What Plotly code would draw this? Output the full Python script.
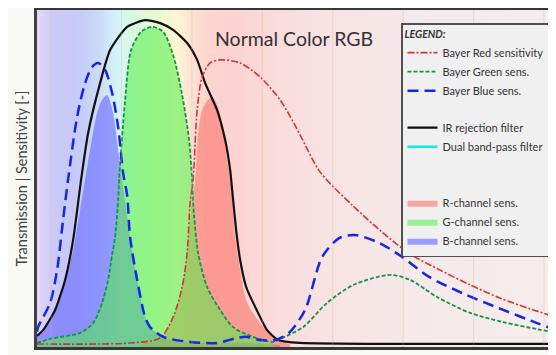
import plotly.graph_objects as go

# ---------------- data (wavelength nm, value %) ----------------
X_RANGE = [380, 1117]
Y_RANGE = [0, 100]

ir_nm = [380, 388.6, 405.7, 419.9, 431.3, 442.6, 452.6, 469.6, 483.8, 508.0, 533.5, 554.8,
         573.3, 593.2, 607.4, 618.8, 635.8, 647.2, 654.3, 658.5, 662.8, 668.5, 677.0, 694.0,
         706.8, 722.4, 753.7, 895.7, 1117]
ir_val = [3.3, 5.0, 11.0, 19.9, 31.8, 49.6, 63.5, 78.3, 88.1, 95.0, 97.0, 96.1,
          94.1, 90.2, 85.2, 78.3, 70.3, 61.4, 52.5, 43.6, 34.7, 25.8, 17.8, 10.1,
          5.0, 2.1, 1.2, 0.9, 0.9]

green_nm = [380, 398.6, 441.2, 459.7, 472.4, 481.0, 486.6, 490.9, 495.2, 496.6, 505.1, 513.6,
            527.8, 543.5, 559.1, 573.3, 586.1, 596.0, 600.3, 601.7, 608.8, 621.6, 640.1, 658.5,
            686.9, 715.3, 725.3, 758.0, 792.0, 829.0, 881.5, 909.9, 948.3, 995.2, 1042.0, 1090.3, 1117]
green_val = [1.2, 2.4, 4.2, 7.1, 13.1, 19.9, 27.3, 32.6, 43.6, 49.6, 73.3, 88.1,
             93.5, 95.0, 93.5, 86.6, 74.8, 61.4, 49.6, 42.7, 27.9, 17.8, 11.0, 5.9,
             3.0, 1.5, 2.4, 5.9, 13.1, 18.4, 21.4, 19.9, 14.8, 10.1, 7.4, 5.3, 4.2]

blue_nm = [380, 381.5, 398.6, 408.5, 417.0, 424.1, 436.9, 448.3, 458.2, 466.8, 476.7, 486.6,
           495.2, 502.3, 508.0, 512.2, 522.2, 533.5, 540.6, 559.1, 597.4, 635.8, 664.2, 678.4,
           695.5, 718.2, 737.8, 760.7, 784.9, 809.1, 831.8, 865.9, 898.6, 936.9, 983.8, 1042.0,
           1090.3, 1117]
blue_val = [4.5, 5.9, 13.1, 22.8, 37.7, 49.6, 68.2, 78.3, 83.1, 84.3, 82.2, 75.4,
            65.3, 51.6, 45.0, 32.6, 19.9, 8.9, 5.9, 3.0, 1.5, 1.2, 2.7, 3.0,
            2.1, 2.1, 4.2, 11.0, 26.7, 32.3, 33.2, 30.9, 26.7, 20.8, 16.0, 11.0,
            7.1, 5.0]

red_nm = [380, 512.2, 554.8, 573.3, 586.1, 593.2, 597.4, 601.7, 607.4, 614.5, 625.9, 640.1,
          668.5, 696.9, 725.3, 743.8, 753.7, 782.1, 827.5, 870.0, 909.9, 952.6, 995.2, 1037.8,
          1080.4, 1117]
red_val = [0.9, 1.2, 2.7, 8.9, 17.8, 27.9, 42.7, 49.6, 70.3, 80.1, 84.3, 85.2,
           84.3, 80.1, 73.3, 66.8, 62.9, 51.9, 42.1, 34.1, 27.6, 22.8, 18.4, 14.5,
           11.3, 8.9]

rch_nm = [526.4, 554.8, 573.3, 586.1, 593.2, 598.9, 604.5, 608.8, 615.9, 628.7, 637.2, 644.3,
          650.0, 654.3, 661.4, 668.5, 678.4, 696.9, 721.0, 739.5]
rch_val = [0.9, 2.7, 8.9, 17.8, 27.9, 40.7, 49.6, 63.5, 71.2, 74.2, 71.2, 63.5,
           55.5, 49.6, 32.6, 22.8, 13.1, 7.1, 2.1, 0.9]

bch_nm = [380, 388.6, 405.7, 419.9, 431.3, 441.2, 448.3, 455.4, 465.3, 472.4, 479.5, 488.1,
          495.2, 500.9, 512.2, 522.2, 533.5, 540.6, 559.1, 597.4, 635.8, 682.7, 725.3]
bch_val = [3.0, 5.0, 11.0, 19.3, 28.8, 40.7, 49.6, 58.5, 69.4, 73.3, 74.8, 69.4,
           58.5, 49.6, 32.6, 19.9, 8.9, 5.9, 3.0, 1.5, 1.2, 1.2, 0.6]

gch_cut = 716  # G-channel = green response below IR cut-off
gch_nm = [n for n in green_nm if n <= gch_cut]
gch_val = [v for n, v in zip(green_nm, green_val) if n <= gch_cut]

grid_nm = [400, 500, 600, 700, 800, 900, 1000, 1100]

bg_nm = [380, 392, 410, 440, 470, 488, 500, 515, 550, 580, 600, 620, 660, 720, 800, 900, 1117]
bg_col = ['#e4d6f8', '#d8d0fa', '#cac8f8', '#c6cbf8', '#cbdcfa', '#d4eefa', '#d6f6f4', '#d8f8e2', '#e8f8d2',
          '#fff6d2', '#ffe2d4', '#ffd5d0', '#fcd3d1', '#fadcdc', '#f8e3e3', '#f6e9e9', '#f5edec']

# ---------------- figure ----------------
fig = go.Figure()

span = X_RANGE[1] - X_RANGE[0]
fig.add_trace(go.Scatter(
    x=[X_RANGE[0], X_RANGE[1], X_RANGE[1], X_RANGE[0], X_RANGE[0]],
    y=[Y_RANGE[0], Y_RANGE[0], Y_RANGE[1], Y_RANGE[1], Y_RANGE[0]],
    mode='lines', line=dict(width=0, color='rgba(0,0,0,0)'), fill='toself',
    fillgradient=dict(type='horizontal', start=X_RANGE[0], stop=X_RANGE[1],
                      colorscale=[[(n - X_RANGE[0]) / span, c] for n, c in zip(bg_nm, bg_col)]),
    showlegend=False, hoverinfo='skip'))

common_fill = dict(mode='lines', line=dict(width=0, color='rgba(0,0,0,0)', shape='spline', smoothing=0.8),
                   fill='tozeroy', hoverinfo='skip')
fig.add_trace(go.Scatter(x=bch_nm, y=bch_val, name='B-channel sens.', fillcolor='rgba(100,100,255,0.6)',
                         legendgroup='c', legendrank=9, **common_fill))
fig.add_trace(go.Scatter(x=rch_nm, y=rch_val, name='R-channel sens.', fillcolor='rgba(250,115,105,0.6)',
                         legendgroup='c', legendrank=7, **common_fill))
fig.add_trace(go.Scatter(x=gch_nm, y=gch_val, name='G-channel sens.', fillcolor='rgba(80,240,70,0.55)',
                         legendgroup='c', legendrank=8, **common_fill))

fig.add_trace(go.Scatter(x=ir_nm, y=ir_val, name='IR rejection filter', mode='lines',
                         line=dict(color='#111111', width=2.2, shape='spline', smoothing=0.6),
                         legendgroup='b', legendrank=4))
fig.add_trace(go.Scatter(x=[None], y=[None], name='Dual band-pass filter', mode='lines',
                         line=dict(color='#10e8f0', width=2.5), legendgroup='b', legendrank=5))
fig.add_trace(go.Scatter(x=[None], y=[None], name=' ', mode='lines',
                         line=dict(color='rgba(0,0,0,0)', width=1), legendgroup='c', legendrank=6))

fig.add_trace(go.Scatter(x=red_nm, y=red_val, name='Bayer Red sensitivity', mode='lines',
                         line=dict(color='#d03434', width=1.6, dash='7px,2px,2px,2px', shape='spline', smoothing=0.8),
                         legendgroup='a', legendrank=1))
fig.add_trace(go.Scatter(x=green_nm, y=green_val, name='Bayer Green sens.', mode='lines',
                         line=dict(color='#15924a', width=1.8, dash='4px,2px', shape='spline', smoothing=0.8),
                         legendgroup='a', legendrank=2))
fig.add_trace(go.Scatter(x=blue_nm, y=blue_val, name='Bayer Blue sens.', mode='lines',
                         line=dict(color='#1426e8', width=2.5, dash='11px,6px', shape='spline', smoothing=0.8),
                         legendgroup='a', legendrank=3))

for g in grid_nm:
    fig.add_shape(type='line', x0=g, x1=g, xref='x', y0=0, y1=1, yref='paper', layer='above',
                  line=dict(color='rgba(215,175,130,0.3)', width=1))

# page is rendered with the browser's default 8px body margin
OFF = 8
W, H = 556 - OFF, 355 - OFF
L, R, T, B = 37 - OFF, 0, 10 - OFF, 8
pw, ph = W - L - R, H - T - B


def xp(px):  # page pixel -> paper fraction
    return (px - OFF - L) / pw


def yp(py):
    return (H - B - (py - OFF)) / ph


fig.add_annotation(text='Normal Color RGB', xref='paper', yref='paper',
                   x=xp(294), y=yp(25), showarrow=False,
                   font=dict(family='Lato', size=19.5, color='#333333'))

fig.update_layout(
    width=W, height=H, margin=dict(l=L, r=R, t=T, b=B, autoexpand=False),
    paper_bgcolor='#f8f8f4', plot_bgcolor='#f5eded',
    font=dict(family='Lato', color='#333333'),
    xaxis=dict(range=X_RANGE, showgrid=False, zeroline=False, showticklabels=False, ticks='',
               showline=True, linecolor='#383838', linewidth=2.5, mirror=True),
    yaxis=dict(range=Y_RANGE, showgrid=False, zeroline=False, showticklabels=False, ticks='',
               showline=True, linecolor='#404040', linewidth=2.5, automargin=False,
               title=dict(text='Transmission | Sensitivity [-]', standoff=4,
                          font=dict(family='Lato', size=14.5, color='#444444'))),
    legend=dict(x=xp(401), y=yp(23), xanchor='left', yanchor='top',
                bgcolor='#f0f0f0', bordercolor='#505050', borderwidth=1.5,
                font=dict(family='Lato', size=11, color='#333333'),
                title=dict(text='<b><i>LEGEND:</i></b>', font=dict(family='Lato', size=10.5, color='#333333')),
                tracegroupgap=18, traceorder='grouped', itemwidth=30),
)

fig.write_html('out.html')
